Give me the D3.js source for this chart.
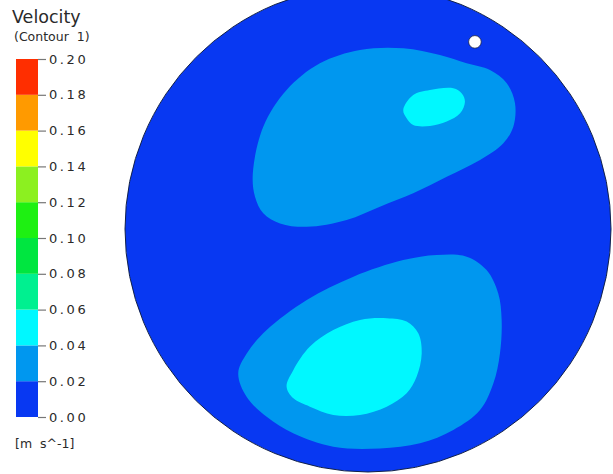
<!DOCTYPE html>
<html>
<head>
<meta charset="utf-8">
<script src="https://cdn.jsdelivr.net/npm/d3@7"></script>
<style>
  html, body { margin: 0; padding: 0; background: #fff; }
  svg { display: block; }
</style>
</head>
<body>
<svg id="chart" width="613" height="474"></svg>
<script>
// ---------------- DATA ----------------
// Legend band boundaries (m/s) and colours (bottom -> top)
const levels = [0.00, 0.02, 0.04, 0.06, 0.08, 0.10, 0.12, 0.14, 0.16, 0.18, 0.20];
const bandColors = ["#0838f2", "#0097ef", "#00f8ff", "#00f090", "#00e640",
                    "#1ef012", "#8cf020", "#ffff00", "#ff9a00", "#ff2e00"];
const tickLabels = ["0.00", "0.02", "0.04", "0.06", "0.08", "0.10",
                    "0.12", "0.14", "0.16", "0.18", "0.20"];

// Contour regions in normalised domain coordinates (circle radius = 1)
// band index refers to bandColors
const upperOuter = [[-0.474,0.229],[-0.431,0.421],[-0.335,0.572],[-0.198,0.682],[-0.033,0.737],
  [0.145,0.744],[0.296,0.716],[0.406,0.682],[0.502,0.654],[0.571,0.600],[0.605,0.517],
  [0.598,0.421],[0.557,0.353],[0.461,0.284],[0.324,0.215],[0.186,0.147],[0.049,0.092],
  [-0.088,0.037],[-0.252,0.009],[-0.362,0.023],[-0.431,0.065],[-0.465,0.133]];
const upperInner = [[0.145,0.490],[0.186,0.551],[0.255,0.572],[0.351,0.579],[0.386,0.558],
  [0.399,0.524],[0.379,0.476],[0.324,0.442],[0.255,0.424],[0.186,0.428],[0.159,0.456]];
const lowerOuter = [[-0.534,-0.594],[-0.499,-0.512],[-0.417,-0.416],[-0.252,-0.292],[-0.060,-0.196],
  [0.145,-0.128],[0.283,-0.107],[0.406,-0.114],[0.488,-0.169],[0.536,-0.265],[0.550,-0.374],
  [0.543,-0.512],[0.516,-0.635],[0.461,-0.745],[0.351,-0.827],[0.214,-0.882],[0.049,-0.903],
  [-0.143,-0.896],[-0.308,-0.841],[-0.417,-0.773],[-0.499,-0.691]];
const lowerInner = [[-0.335,-0.649],[-0.307,-0.580],[-0.239,-0.484],[-0.143,-0.416],[-0.033,-0.374],
  [0.077,-0.367],[0.159,-0.381],[0.207,-0.429],[0.221,-0.512],[0.200,-0.608],[0.159,-0.676],
  [0.077,-0.731],[-0.033,-0.765],[-0.143,-0.765],[-0.239,-0.731],[-0.307,-0.697]];
const regions = [
  {band: 1, pts: upperOuter},
  {band: 2, pts: upperInner},
  {band: 1, pts: lowerOuter},
  {band: 2, pts: lowerInner}
];
// small hole (outlet) in the domain
const holes = [{x: 0.440, y: 0.770, r: 0.026}];

// ---------------- LAYOUT ----------------
const svg = d3.select("#chart");
const cx = 368, cy = 229, R = 243;

const x = d3.scaleLinear().domain([-1, 1]).range([cx - R, cx + R]);
const y = d3.scaleLinear().domain([-1, 1]).range([cy + R, cy - R]);
const rs = d3.scaleLinear().domain([0, 1]).range([0, R]);

svg.append("rect").attr("width", 613).attr("height", 474).attr("fill", "#fff");

const defs = svg.append("defs");
defs.append("clipPath").attr("id", "dom")
  .append("circle").attr("cx", x(0)).attr("cy", y(0)).attr("r", rs(1));

const plot = svg.append("g").attr("clip-path", "url(#dom)");
plot.append("circle")
  .attr("cx", x(0)).attr("cy", y(0)).attr("r", rs(1))
  .attr("fill", bandColors[0]);

const line = d3.line()
  .x(d => x(d[0])).y(d => y(d[1]))
  .curve(d3.curveCatmullRomClosed.alpha(0.5));

plot.selectAll("path.region").data(regions).join("path")
  .attr("class", "region")
  .attr("d", d => line(d.pts))
  .attr("fill", d => bandColors[d.band]);

svg.append("circle")
  .attr("cx", x(0)).attr("cy", y(0)).attr("r", rs(1))
  .attr("fill", "none").attr("stroke", "#10204a").attr("stroke-width", 1);

svg.selectAll("circle.hole").data(holes).join("circle")
  .attr("class", "hole")
  .attr("cx", d => x(d.x)).attr("cy", d => y(d.y)).attr("r", d => rs(d.r))
  .attr("fill", "#fff").attr("stroke", "#1a2040").attr("stroke-width", 0.8);

// ---------------- LEGEND ----------------
const legX = 16, legW = 22;
const ly = d3.scaleLinear().domain([0, 0.20]).range([417, 59]);

const leg = svg.append("g");
leg.selectAll("rect.band").data(bandColors).join("rect")
  .attr("class", "band")
  .attr("x", legX)
  .attr("y", (d, i) => ly(levels[i + 1]))
  .attr("width", legW)
  .attr("height", (d, i) => ly(levels[i]) - ly(levels[i + 1]))
  .attr("fill", d => d);

const axis = d3.axisRight(ly)
  .tickValues(levels)
  .tickFormat((d, i) => tickLabels[i])
  .tickSize(8).tickPadding(3);
const ag = leg.append("g").attr("transform", `translate(${legX + legW},0)`).call(axis);
ag.select(".domain").remove();
ag.selectAll(".tick line").attr("stroke", "#777").attr("stroke-width", 1.2);
ag.selectAll(".tick text")
  .attr("fill", "#2a2a2a")
  .style("font-family", "'DejaVu Sans', sans-serif")
  .style("font-size", "13px")
  .style("letter-spacing", "2.6px");

svg.append("text").attr("x", 12).attr("y", 23)
  .style("font-family", "'DejaVu Sans', sans-serif").style("font-size", "17.5px")
  .attr("fill", "#2a2a2a").text("Velocity");
svg.append("text").attr("x", 14).attr("y", 41)
  .style("font-family", "'DejaVu Sans', sans-serif").style("font-size", "12.5px")
  .attr("fill", "#2a2a2a").style("white-space", "pre")
  .text("(Contour  1)");
svg.append("text").attr("x", 15).attr("y", 448)
  .style("font-family", "'DejaVu Sans', sans-serif").style("font-size", "12.5px")
  .attr("fill", "#2a2a2a").style("white-space", "pre")
  .text("[m  s^-1]");
</script>
</body>
</html>
